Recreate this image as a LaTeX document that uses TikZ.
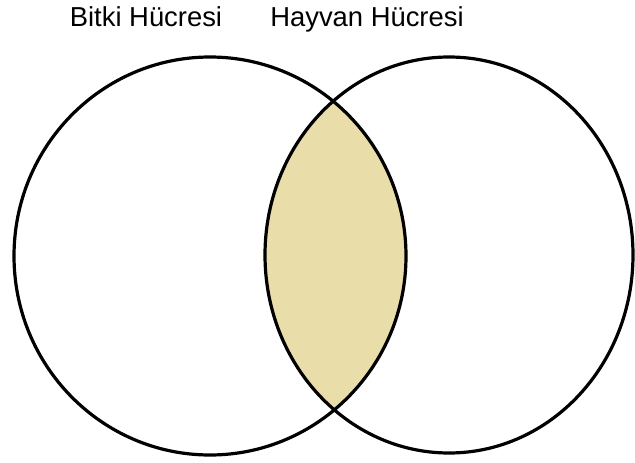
\documentclass[tikz,border=0pt]{standalone}
\usepackage{fontspec}
\setmainfont{Liberation Sans}
\usetikzlibrary{positioning}
\definecolor{lensfill}{HTML}{E9DEAA}
\definecolor{ringline}{HTML}{000000}
\tikzset{
  ring/.style={draw=ringline, line width=3.2pt},
  setlbl/.style={font=\fontsize{27.4}{30}\selectfont, anchor=base, inner sep=0pt},
}

\begin{document}
\begin{tikzpicture}[x=1pt, y=-1pt]
  \useasboundingbox (0,0) rectangle (635,463);
  \coordinate (cb) at (210,256);
  \coordinate (ch) at (449,255);
  % shared part
  \begin{scope}
    \clip (cb) ellipse [x radius=196, y radius=199];
    \fill[lensfill] (ch) ellipse [x radius=184, y radius=198];
  \end{scope}
  \draw[ring] (cb) ellipse [x radius=196, y radius=199];
  \draw[ring] (ch) ellipse [x radius=184, y radius=198];
  \node (bitki) [setlbl] at (146,27) {Bitki Hücresi};
  \node (hayvan) [setlbl] at (367,26) {Hayvan Hücresi};
\end{tikzpicture}
\end{document}
